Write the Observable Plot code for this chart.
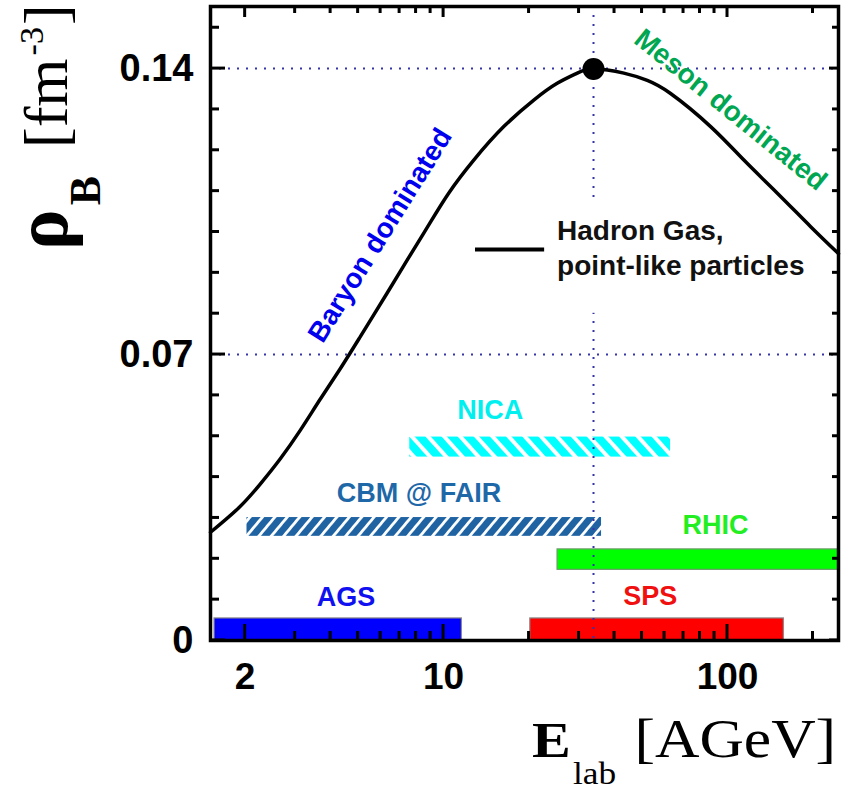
<!DOCTYPE html>
<html><head><meta charset="utf-8">
<script src="https://cdn.jsdelivr.net/npm/d3@7"></script>
<script src="https://cdn.jsdelivr.net/npm/@observablehq/plot@0.6"></script>
<style>body{margin:0;background:#fff}</style>
</head><body><div id="chart"></div>
<script>
// ---- data ----
const curveE = [1.51, 1.90, 2.26, 2.66, 3.13, 3.68, 4.33, 5.09, 6.32, 7.44, 8.79, 10.42, 12.77, 16.29, 20.78, 25.12, 29.55, 33.73, 43.13, 52.17, 63.01, 87.2, 114.2, 149.8, 196.3, 246];
const curveRho = [0.0265, 0.0325, 0.0383, 0.0445, 0.0515, 0.0591, 0.0666, 0.0744, 0.0850, 0.0931, 0.1013, 0.1095, 0.1176, 0.1258, 0.1323, 0.1364, 0.1389, 0.1399, 0.1389, 0.1371, 0.1339, 0.1258, 0.1176, 0.1095, 0.1013, 0.0947];
const peakE = [33.73];
const peakRho = [0.1399];
const gridRho = [0.07, 0.14];

const facilities = ["AGS", "SPS", "RHIC", "CBM @ FAIR", "NICA"];
const facLo = [1.56, 20.2, 25.2, 2.03, 7.6];
const facHi = [11.6, 158, 246, 36, 63];
const facBottom = [0, 0, 0.0173, 0.0255, 0.0449];
const facTop = [0.0054, 0.0054, 0.0223, 0.0301, 0.0498];
const facLabelE = [4.53, 53.4, 90.8, 8.19, 14.6];
const facLabelRho = [0.0105, 0.0109, 0.0281, 0.0360, 0.0563];

const regionText = ["Baryon dominated", "Meson dominated"];
const regionE = [5.98, 102.5];
const regionRho = [0.0992, 0.1299];

const legendText = ["Hadron Gas,", "point-like particles"];
const legendLineE = [12.9, 22.6];
const legendLineRho = 0.0957;
const legendTextE = 25.1;
const legendTextRho = [0.1002, 0.0916];
const legendBoxE = [11.9, 204];
const legendBoxRho = [0.0801, 0.1078];

const xMajor = [2, 10, 100];
const xMajorLabels = ["2", "10", "100"];
const xMinor = [3, 4, 5, 6, 7, 8, 9, 20, 30, 40, 50, 60, 70, 80, 90, 200];
const yMajor = [0, 0.07, 0.14];
const yMajorLabels = ["0", "0.07", "0.14"];
const yMinor = [0.01, 0.02, 0.03, 0.04, 0.05, 0.06, 0.08, 0.09, 0.10, 0.11, 0.12, 0.13, 0.15];

// ---- styles ----
const facFill = {"AGS": "#0000ff", "SPS": "#ff0000", "RHIC": "#00ff00", "CBM @ FAIR": "url(#hatchCBM)", "NICA": "url(#hatchNICA)"};
const facStroke = {"AGS": "#8a8a8a", "SPS": "#8a8a8a", "RHIC": "#6a9a6a", "CBM @ FAIR": "none", "NICA": "none"};
const facTextColor = {"AGS": "#1010f0", "SPS": "#f01010", "RHIC": "#22ee22", "CBM @ FAIR": "#1f68a8", "NICA": "#00f0f0"};
const regionColor = {"Baryon dominated": "#0000ee", "Meson dominated": "#00a651"};
const regionRotate = {"Baryon dominated": -58, "Meson dominated": 39};
const dotColor = "#3535a8";

const W = 855, H = 791, ML = 210, MR = 17, MT = 6, MB = 151;

// ---- tables ----
const curve = curveE.map((e, i) => ({e, rho: curveRho[i]}));
const peak = peakE.map((e, i) => ({e, rho: peakRho[i]}));
const bars = facilities.map((name, i) => ({name, lo: facLo[i], hi: facHi[i], b: facBottom[i], t: facTop[i], le: facLabelE[i], lr: facLabelRho[i]}));
const regions = regionText.map((text, i) => ({text, e: regionE[i], rho: regionRho[i]}));
const legendRows = legendText.map((text, i) => ({text, e: legendTextE, rho: legendTextRho[i]}));

const defsMark = () => {
  const defs = d3.create("svg:defs");
  const p1 = defs.append("pattern").attr("id", "hatchCBM").attr("patternUnits", "userSpaceOnUse")
    .attr("width", 9.5).attr("height", 9.5).attr("patternTransform", "rotate(40)");
  p1.append("rect").attr("width", 9.5).attr("height", 9.5).attr("fill", "#1f63a3");
  p1.append("rect").attr("width", 2.8).attr("height", 9.5).attr("fill", "#ffffff");
  const p2 = defs.append("pattern").attr("id", "hatchNICA").attr("patternUnits", "userSpaceOnUse")
    .attr("width", 12).attr("height", 12).attr("patternTransform", "rotate(-42)");
  p2.append("rect").attr("width", 12).attr("height", 12).attr("fill", "#00ffff");
  p2.append("rect").attr("width", 4).attr("height", 12).attr("fill", "#ffffff");
  return defs.node();
};

// inward ticks on all four sides, positioned with the plot's own scales
const ticksMark = (index, scales, values, dims) => {
  const sx = scales.x, sy = scales.y;
  const top = dims.marginTop, bottom = dims.height - dims.marginBottom;
  const left = dims.marginLeft, right = dims.width - dims.marginRight;
  const g = d3.create("svg:g").attr("stroke", "#000").attr("stroke-width", 3).attr("fill", "none");
  const seg = (x1, y1, x2, y2) => g.append("line").attr("x1", x1).attr("y1", y1).attr("x2", x2).attr("y2", y2);
  for (const v of xMajor) { const p = sx(v); seg(p, bottom, p, bottom - 16); seg(p, top, p, top + 11); }
  for (const v of xMinor) { const p = sx(v); seg(p, bottom, p, bottom - 9); seg(p, top, p, top + 7); }
  for (const v of yMajor) { const p = sy(v); seg(left, p, left + 15, p); seg(right, p, right - 9, p); }
  for (const v of yMinor) { const p = sy(v); seg(left, p, left + 9, p); seg(right, p, right - 6, p); }
  return g.node();
};

const axisTitles = () => {
  const g = d3.create("svg:g").attr("font-family", "'Liberation Serif', 'Times New Roman', serif").attr("fill", "#000").attr("text-anchor", "start");
  const ty = g.append("text").attr("text-anchor", "start").attr("transform", "translate(67,250) rotate(-90)");
  ty.append("tspan").attr("font-weight", "bold").attr("font-size", 76).text("ρ");
  ty.append("tspan").attr("font-weight", "bold").attr("font-size", 44).attr("dx", 4).attr("dy", 33).text("B");
  ty.append("tspan").attr("font-size", 62).attr("dx", 28).attr("dy", -33).text("[fm");
  ty.append("tspan").attr("font-size", 34).attr("dx", 3).attr("dy", -24).text("-3");
  ty.append("tspan").attr("font-size", 62).attr("dx", 2).attr("dy", 24).text("]");
  const tx = g.append("text").attr("text-anchor", "start").attr("transform", "translate(532,757) scale(1.14,1)");
  tx.append("tspan").attr("font-weight", "bold").attr("font-size", 51).text("E");
  tx.append("tspan").attr("font-size", 31).attr("dx", 2).attr("dy", 27).text("lab");
  tx.append("tspan").attr("font-size", 54).attr("dx", 16).attr("dy", -27).text("[AGeV]");
  return g.node();
};

const chart = Plot.plot({
  width: W,
  height: H,
  marginLeft: ML,
  marginRight: MR,
  marginTop: MT,
  marginBottom: MB,
  x: {type: "log", domain: [1.51, 246]},
  y: {domain: [0, 0.1552]},
  style: {fontFamily: "'Liberation Sans', Arial, sans-serif", background: "#fff", color: "#000"},
  marks: [
    defsMark,
    Plot.rect(bars, {x1: "lo", x2: "hi", y1: "b", y2: "t", fill: d => facFill[d.name], stroke: d => facStroke[d.name], strokeWidth: 1.2}),
    Plot.ruleY(gridRho, {stroke: dotColor, strokeWidth: 2, strokeDasharray: "2,7"}),
    Plot.ruleX(peakE, {stroke: dotColor, strokeWidth: 2, strokeDasharray: "2,7"}),
    Plot.rect([0], {x1: legendBoxE[0], x2: legendBoxE[1], y1: legendBoxRho[0], y2: legendBoxRho[1], fill: "#fff"}),
    Plot.line(curve, {x: "e", y: "rho", curve: "natural", stroke: "#000", strokeWidth: 3.5}),
    Plot.dot(peak, {x: "e", y: "rho", r: 11, fill: "#000"}),
    Plot.text(bars, {x: "le", y: "lr", text: "name", fill: d => facTextColor[d.name], fontSize: 27, fontWeight: "bold"}),
    Plot.text(regions, {x: "e", y: "rho", text: "text", fill: d => regionColor[d.text], rotate: d => regionRotate[d.text], fontSize: 28, fontWeight: "bold"}),
    Plot.link([0], {x1: legendLineE[0], x2: legendLineE[1], y1: legendLineRho, y2: legendLineRho, stroke: "#000", strokeWidth: 4}),
    Plot.text(legendRows, {x: "e", y: "rho", text: "text", textAnchor: "start", fill: "#111", fontSize: 28, fontWeight: "bold"}),
    Plot.axisX(xMajor, {anchor: "bottom", tickSize: 0, tickPadding: 22, fontSize: 37, fontWeight: "bold", label: null, tickFormat: d => xMajorLabels[xMajor.indexOf(d)]}),
    Plot.axisY(yMajor, {anchor: "left", tickSize: 0, tickPadding: 17, fontSize: 38, fontWeight: "bold", label: null, tickFormat: d => yMajorLabels[yMajor.indexOf(d)]}),
    Plot.frame({stroke: "#000", strokeWidth: 3.5}),
    axisTitles,
    ticksMark
  ]
});
document.getElementById("chart").append(chart);
</script>
</body></html>
